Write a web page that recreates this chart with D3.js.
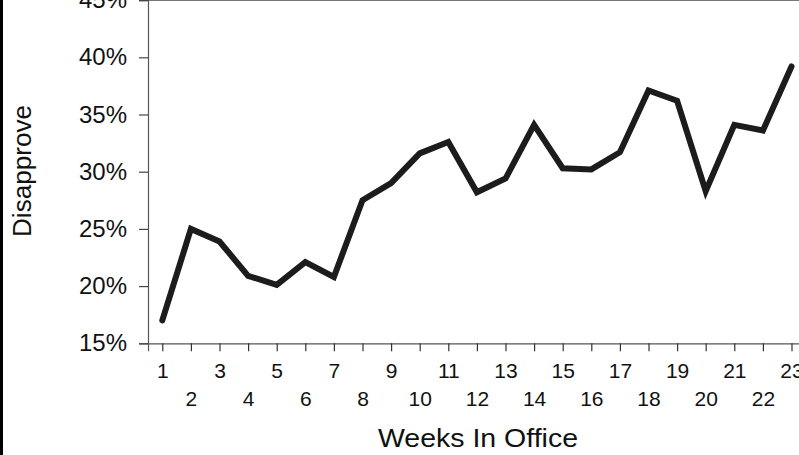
<!DOCTYPE html>
<html>
<head>
<meta charset="utf-8">
<script src="https://cdn.jsdelivr.net/npm/d3@7"></script>
<style>
  html, body { margin: 0; padding: 0; background: #fff; }
  svg { display: block; }
  text { font-family: "Liberation Sans", Arial, Helvetica, sans-serif; fill: #111; }
</style>
</head>
<body>
<svg id="chart" width="799" height="455"></svg>
<script>
const weeks = [1,2,3,4,5,6,7,8,9,10,11,12,13,14,15,16,17,18,19,20,21,22,23];
const disapprove = [17.0,25.0,23.9,20.9,20.1,22.1,20.8,27.5,29.0,31.6,32.6,28.2,29.4,34.1,30.3,30.2,31.7,37.1,36.2,28.3,34.1,33.6,39.2];
const yTicks = [15,20,25,30,35,40,45];
const yTitle = "Disapprove";
const xTitle = "Weeks In Office";

const svg = d3.select("#chart");
const W = 799, H = 455;

const x = d3.scaleLinear().domain([0.5, 23.5]).range([148, 148 + 23 * 28.6]);
const y = d3.scaleLinear().domain([15, 45]).range([343.3, 343.3 - 6 * 57.2]);

// left scan border
svg.append("rect").attr("x", 0).attr("y", 0).attr("width", 3).attr("height", H).attr("fill", "#000");

// top frame line
svg.append("line")
  .attr("x1", x(0.5)).attr("x2", W)
  .attr("y1", 0.5).attr("y2", 0.5)
  .attr("stroke", "#777").attr("stroke-width", 1.2);

// Y axis
const yAxis = d3.axisLeft(y).tickValues(yTicks).tickSize(9).tickPadding(12)
  .tickFormat(d => d + "%");
const gy = svg.append("g").attr("transform", `translate(${x(0.5)},0)`).call(yAxis);
gy.select(".domain").attr("stroke", "#555").attr("stroke-width", 1.2);
gy.selectAll(".tick line").attr("stroke", "#444").attr("stroke-width", 1.2);
gy.selectAll(".tick text").attr("font-size", "24px").attr("fill", "#111")
  .attr("font-family", '"Liberation Sans", Arial, sans-serif');

// X axis
const xAxis = d3.axisBottom(x).tickValues(weeks).tickSize(8).tickFormat(d => d);
const gx = svg.append("g").attr("transform", `translate(0,${y(15)})`).call(xAxis);
gx.select(".domain").attr("stroke", "#555").attr("stroke-width", 1.2);
gx.selectAll(".tick line").attr("stroke", "#333").attr("stroke-width", 1.2);
gx.selectAll(".tick text")
  .attr("font-size", "21px").attr("fill", "#111")
  .attr("font-family", '"Liberation Sans", Arial, sans-serif')
  .attr("dy", null)
  .attr("y", d => (d % 2 === 1 ? 378 : 406) - y(15));

// line
const line = d3.line().x((d, i) => x(weeks[i])).y(d => y(d));
svg.append("path")
  .datum(disapprove)
  .attr("d", line)
  .attr("fill", "none")
  .attr("stroke", "#1c1c1c")
  .attr("stroke-width", 6)
  .attr("stroke-linejoin", "miter")
  .attr("stroke-linecap", "round");

// titles
svg.append("text")
  .attr("transform", "translate(31,171) rotate(-90)")
  .attr("text-anchor", "middle")
  .attr("font-size", "26px")
  .attr("textLength", 132).attr("lengthAdjust", "spacingAndGlyphs")
  .text(yTitle);

svg.append("text")
  .attr("x", 478).attr("y", 447)
  .attr("text-anchor", "middle")
  .attr("font-size", "25px")
  .attr("textLength", 200).attr("lengthAdjust", "spacingAndGlyphs")
  .text(xTitle);
</script>
</body>
</html>
